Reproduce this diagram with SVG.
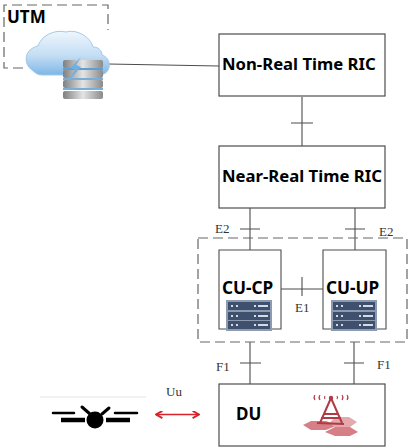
<svg xmlns="http://www.w3.org/2000/svg" width="408" height="448" viewBox="0 0 408 448">
<defs>
<linearGradient id="cloud" x1="0" y1="0" x2="0" y2="1"><stop offset="0" stop-color="#eef6fc"/><stop offset=".55" stop-color="#c4def4"/><stop offset="1" stop-color="#7fb6e6"/></linearGradient>
<linearGradient id="disk" x1="0" y1="0" x2="1" y2="0"><stop offset="0" stop-color="#7f7f7f"/><stop offset=".5" stop-color="#e4e4e4"/><stop offset="1" stop-color="#8a8a8a"/></linearGradient>
<g id="rack"><rect width="46" height="31" fill="#8d9bb0"/>
<g fill="#3f4f6e"><rect x="2" y="2" width="42" height="8"/><rect x="2" y="12" width="42" height="8"/><rect x="2" y="21" width="42" height="8"/></g>
<g fill="#d5dbe5"><rect x="5" y="5" width="2" height="2"/><rect x="10" y="5" width="2" height="2"/><rect x="28" y="5" width="2" height="2"/><rect x="32" y="5" width="10" height="2"/><rect x="5" y="15" width="2" height="2"/><rect x="10" y="15" width="2" height="2"/><rect x="28" y="15" width="2" height="2"/><rect x="32" y="15" width="10" height="2"/><rect x="5" y="24" width="2" height="2"/><rect x="10" y="24" width="2" height="2"/><rect x="28" y="24" width="2" height="2"/><rect x="32" y="24" width="10" height="2"/></g></g>
<marker id="red" viewBox="0 0 10 10" refX="9" refY="5" markerWidth="8" markerHeight="8" markerUnits="userSpaceOnUse" orient="auto-start-reverse"><path d="M1 0.5L9 5L1 9.5" fill="none" stroke="#d8232a" stroke-width="2.400"/></marker>
</defs>
<style>
.box{fill:#fff;stroke:#4d4d4d;stroke-width:1.2}
.ln{fill:none;stroke:#4d4d4d;stroke-width:1.1}
.dash{fill:none;stroke:#666;stroke-width:1.2;stroke-dasharray:10 5}
.b{font-family:"Noto Sans","Open Sans",sans-serif;font-weight:700;fill:#000}
.s{font-family:"Liberation Serif",serif;font-size:13px;fill:#333}
</style>
<g id="connectors">
<path class="ln" d="M108 64L219 66"/>
<path class="ln" d="M302 97V146M291 123H313"/>
<path class="ln" d="M250 208V250M240 229H260"/>
<path class="ln" d="M355 208V250M345 229H365"/>
<path class="ln" d="M281 289H323M302 277V296"/>
<path class="ln" d="M250 342V384M240 363H261"/>
<path class="ln" d="M354 342V384M344 363H364"/>
<path d="M156 414.500H199" fill="none" stroke="#d8232a" stroke-width="1.500" marker-start="url(#red)" marker-end="url(#red)"/>
</g>
<g id="utm"><path class="dash" d="M23 68H4V5H108V30"/>
<text class="b" x="7" y="23" font-size="17">UTM</text></g>
<g id="cloud">
<path d="M32 70C23 64 24 49 38 46C41 36 54 29 66 32C76 29 90 36 93 47C99 47 102 51 102 55C112 58 112 74 100 75H42C38 75 35 73 32 70Z" fill="url(#cloud)" stroke="#a3c9ea"/>
<g fill="url(#disk)"><rect x="63" y="60" width="40" height="8" rx="2"/><rect x="63" y="70" width="40" height="8" rx="2"/><rect x="63" y="80" width="40" height="8" rx="2"/><rect x="63" y="91" width="40" height="8" rx="2"/></g>
<path d="M63 69H103M63 79H103M63 89H103" stroke="#4f93c9" stroke-width="1.500"/>
<path d="M81 57L70 68L75 70L66 84L81 67L76 65Z" fill="#6fb1e3"/>
</g>
<g id="non-rt"><rect class="box" x="219" y="34" width="166" height="62"/>
<text class="b" x="222" y="70" font-size="16.700">Non-Real Time RIC</text></g>
<g id="near-rt"><rect class="box" x="219" y="146" width="166" height="62"/>
<text class="b" x="222" y="182" font-size="16.700">Near-Real Time RIC</text></g>
<g id="cu-group"><rect class="dash" x="198" y="238" width="209" height="104"/></g>
<g id="cu-cp"><path class="ln" d="M228 329H219V250H281V329H272"/>
<text class="b" x="222" y="294" font-size="17.200">CU-CP</text>
<use href="#rack" x="226" y="300"/></g>
<g id="cu-up"><path class="ln" d="M332 329H323V250H386V329H377"/>
<text class="b" x="326" y="294" font-size="17.200">CU-UP</text>
<use href="#rack" x="331" y="300"/></g>
<g id="du"><rect class="box" x="219" y="384" width="166" height="62"/>
<text class="b" x="236" y="420" font-size="17">DU</text>
<g fill="#d67f86"><path d="M303 425L311 421H326L338 425L326 430H311Z"/><path d="M325 432L335 427H350L358 432L350 436H335Z"/><path d="M329 423L336 417H349L357 422L350 427H335Z" fill="#e3a9ad"/></g>
<path d="M331 398L320 423M331 398L342 423M324 414H338M317 423L344 424M321 418H341" fill="none" stroke="#b03a45" stroke-width="2"/>
<circle cx="331" cy="398" r="2.200" fill="#b03a45"/>
<path d="M315 395Q313 397.500 315 400M320 395Q318 397.500 320 400M325 396Q324 397.500 325 399M337 396Q338 397.500 337 399M342 395Q344 397.500 342 400M347 395Q349 397.500 347 400" fill="none" stroke="#b03a45" stroke-width="1.100"/></g>
<g id="uav"><path d="M40 397H146" stroke="#ddd" stroke-width=".8"/>
<circle cx="95" cy="420" r="8.500" fill="#000"/>
<path d="M61 420H85M106 420H130" stroke="#000" stroke-width="4.500"/>
<path d="M53 413H74M115 413H137" stroke="#000" stroke-width="2.500" stroke-linecap="round"/>
<path d="M82 407L90 414M109 408L102 414" stroke="#000" stroke-width="3" stroke-linecap="round"/></g>
<g id="labels">
<text class="s" x="215" y="233">E2</text><text class="s" x="379" y="236">E2</text>
<text class="s" x="295" y="312">E1</text>
<text class="s" x="216" y="371">F1</text><text class="s" x="377" y="369">F1</text>
<text class="s" x="166" y="396">Uu</text></g>
</svg>
